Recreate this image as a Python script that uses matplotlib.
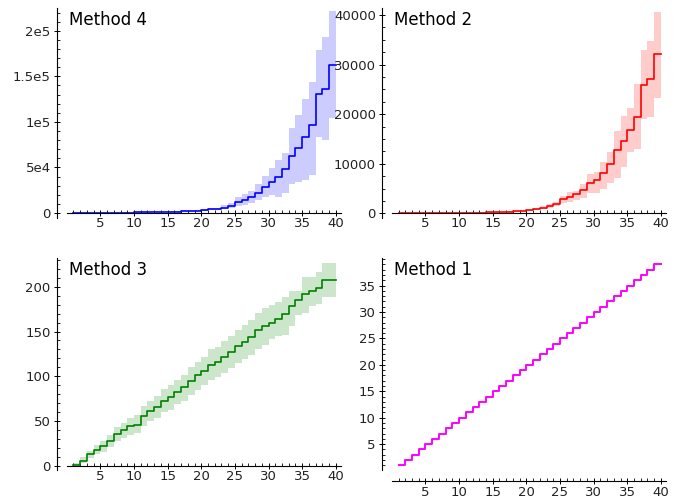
import numpy as np
import matplotlib
matplotlib.use('Agg')
import matplotlib.pyplot as plt
from matplotlib.ticker import FixedLocator, FixedFormatter

# step edges: 39 steps spanning x = 1 .. 40
x_edges = np.arange(1, 41)

# Method 4
m4 = [150, 180, 210, 250, 290, 340, 400, 470, 540, 620, 720, 820, 940, 1080, 1250,
      1450, 1700, 2000, 2500, 3100, 3900, 4500, 5900, 7500, 12400, 14300, 17900, 21600,
      28900, 34400, 39800, 47900, 62900, 70900, 83000, 96500, 130500, 135600, 162300]
m4_lo = [100, 120, 140, 170, 200, 230, 270, 320, 370, 420, 490, 560, 640, 740, 850,
         990, 1150, 1350, 1700, 2300, 2800, 3100, 4200, 5000, 7500, 9000, 11500, 14000,
         18000, 19500, 17900, 21600, 31400, 34400, 36200, 41700, 83700, 80000, 104000]
m4_hi = [200, 240, 280, 340, 390, 460, 540, 630, 730, 840, 970, 1100, 1270, 1460, 1700,
         1960, 2300, 2700, 3400, 4500, 5500, 6000, 8500, 11000, 18000, 21000, 24000, 31500,
         41000, 49000, 58000, 66000, 92800, 107500, 125000, 144000, 178700, 193000, 222000]
m4_ticks = [0, 50000, 100000, 150000, 200000]
m4_labels = ['0', '5e4', '1e5', '1.5e5', '2e5']

# Method 2
m2 = [10, 12, 15, 19, 24, 30, 37, 46, 58, 72, 90, 112, 140, 176, 220, 275, 345, 430,
      540, 670, 870, 1140, 1480, 1880, 2820, 3230, 3830, 4700, 6050, 6700, 8200, 9950,
      12800, 14650, 16800, 19500, 25900, 27000, 32100]
m2_lo = [7, 8, 10, 13, 17, 21, 26, 32, 41, 50, 63, 78, 98, 123, 154, 192, 240, 300,
         380, 500, 650, 900, 1150, 1400, 2000, 2300, 2600, 3150, 4000, 4170, 4850, 6200,
         7050, 9400, 12400, 12900, 18950, 19350, 23300]
m2_hi = [13, 16, 20, 25, 31, 39, 48, 60, 75, 94, 117, 146, 182, 229, 286, 358, 450, 560,
         700, 850, 1100, 1400, 1800, 2300, 3500, 4200, 4500, 5850, 7900, 8400, 10300, 12400,
         16600, 19600, 21300, 26000, 33000, 34700, 40660]
m2_ticks = [0, 10000, 20000, 30000, 40000]

# Method 3
m3 = [1, 6, 13, 18, 22, 28, 36, 40, 45, 46, 56, 61, 66, 73, 77, 83, 88, 95, 101, 106,
      113, 116, 122, 127, 134, 138, 144, 152, 156, 160, 164, 170, 178, 185, 192, 195,
      199, 208, 208]
m3_lo = [0, 3, 9, 13, 16, 21, 28, 31, 35, 37, 45, 50, 54, 60, 63, 69, 73, 79, 85, 90,
         96, 99, 104, 109, 115, 119, 124, 131, 135, 142, 145, 146, 156, 168, 171, 178,
         181, 189, 189]
m3_hi = [3, 10, 17, 23, 28, 35, 43, 48, 54, 57, 67, 72, 78, 86, 90, 96, 102, 110, 116,
         122, 130, 133, 139, 145, 152, 157, 163, 171, 176, 180, 183, 188, 195, 195, 211,
         211, 216, 226, 226]
m3_ticks = [0, 50, 100, 150, 200]

# Method 1
m1 = list(range(1, 40))
m1_ticks = [5, 10, 15, 20, 25, 30, 35]

x_ticks = [5, 10, 15, 20, 25, 30, 35, 40]


def ext(v):
    return np.append(v, v[-1])


def style(ax, title, ylim, yticks, yminor, ylabels=None, x_at_zero=True):
    ax.set_xlim(0.1, 40.75)
    ax.set_ylim(*ylim)
    for s in ['top', 'right']:
        ax.spines[s].set_visible(False)
    ax.spines['left'].set_position(('outward', 7.5))
    if x_at_zero:
        ax.spines['bottom'].set_position(('data', 0))
    else:
        ax.spines['bottom'].set_position(('outward', 8.2))
    for s in ['left', 'bottom']:
        ax.spines[s].set_linewidth(0.8)
    ax.xaxis.set_major_locator(FixedLocator(x_ticks))
    ax.xaxis.set_minor_locator(FixedLocator(range(1, 41)))
    ax.yaxis.set_major_locator(FixedLocator(yticks))
    ax.yaxis.set_minor_locator(FixedLocator(yminor))
    if ylabels is not None:
        ax.yaxis.set_major_formatter(FixedFormatter(ylabels))
    ax.tick_params(which='major', direction='inout', length=5, width=0.7,
                   labelsize=9.5, labelcolor='#222222', pad=2)
    ax.tick_params(axis='x', which='major', pad=0.5)
    ax.tick_params(which='minor', direction='in', length=2.5, width=0.6)
    ax.text(0.005, 0.985, title, transform=ax.transAxes, ha='left', va='top',
            fontsize=12)


fig = plt.figure(figsize=(6.8, 4.99), dpi=100)

ax4 = fig.add_axes([0.0991, 0.5631, 0.4021, 0.4208])
ax2 = fig.add_axes([0.5772, 0.5631, 0.4021, 0.4208])
ax3 = fig.add_axes([0.0991, 0.0581, 0.4021, 0.4248])
ax1 = fig.add_axes([0.5772, 0.0581, 0.4021, 0.4248])

# Method 4
ax4.fill_between(x_edges, ext(m4_lo), ext(m4_hi), step='post', color='#ccccff', lw=0)
ax4.step(x_edges, ext(m4), where='post', color='blue', lw=1.2)
style(ax4, 'Method 4', (-5500, 225000), m4_ticks, np.arange(0, 225000, 10000), m4_labels)

# Method 2
ax2.fill_between(x_edges, ext(m2_lo), ext(m2_hi), step='post', color='#ffcccc', lw=0)
ax2.step(x_edges, ext(m2), where='post', color='red', lw=1.2)
style(ax2, 'Method 2', (-950, 41400), m2_ticks, np.arange(0, 41400, 2500))

# Method 3
ax3.fill_between(x_edges, ext(m3_lo), ext(m3_hi), step='post', color='#cce6cc', lw=0)
ax3.step(x_edges, ext(m3), where='post', color='green', lw=1.2)
style(ax3, 'Method 3', (-4.5, 232), m3_ticks, np.arange(0, 232, 10))

# Method 1
ax1.step(x_edges, ext(m1), where='post', color='magenta', lw=1.4)
style(ax1, 'Method 1', (0.1, 40.2), m1_ticks, np.arange(1, 41), x_at_zero=False)

plt.savefig('out.png', dpi=100)
